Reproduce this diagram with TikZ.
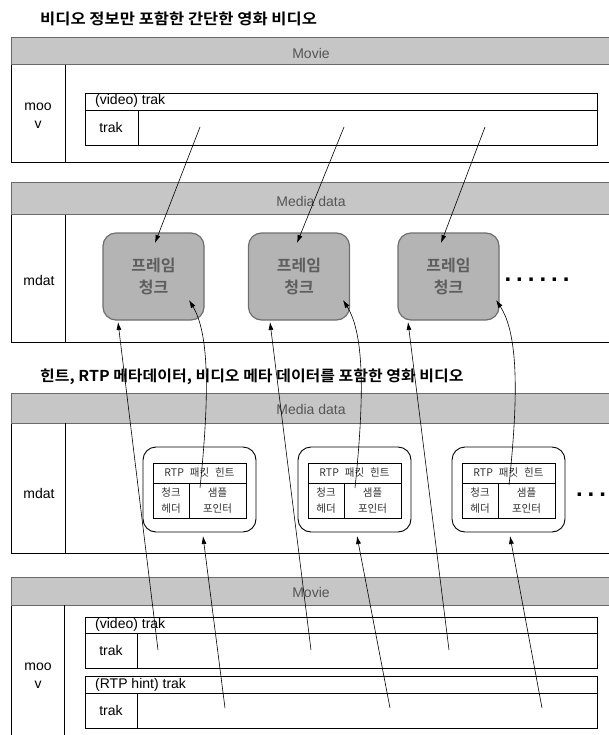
\documentclass[tikz,border=0pt]{standalone}
\usepackage{fontspec}
\setmainfont{Liberation Sans}
\newfontfamily\kr{Noto Sans CJK KR}
\newfontfamily\krb{Noto Sans CJK KR Bold}
\usetikzlibrary{arrows.meta}
\definecolor{bandfill}{HTML}{C6C6C6}
\definecolor{bandline}{HTML}{6A6A6A}
\definecolor{chunkfill}{HTML}{B4B4B4}
\definecolor{chunkline}{HTML}{6E6E6E}
\definecolor{graytext}{HTML}{555555}
\definecolor{chunktext}{HTML}{5E5E5E}
\begin{document}
\begin{tikzpicture}[x=1pt,y=-1pt,
  outer/.style={draw=black,line width=0.9pt},
  bandst/.style={fill=bandfill,draw=bandline,line width=1pt},
  boxline/.style={draw=black,line width=0.8pt},
  lat/.style={font=\fontsize{14}{16}\selectfont,inner sep=0pt},
  bandlabel/.style={font=\fontsize{14}{16}\selectfont,text=graytext,inner sep=0pt},
  ktitle/.style={font=\krb\fontsize{15}{17}\selectfont,inner sep=0pt,anchor=west},
  chunk/.style={fill=chunkfill,draw=chunkline,line width=1.2pt,rounded corners=13pt,
    minimum width=101pt,minimum height=87pt,align=center,text=chunktext,
    font=\krb\fontsize{16}{22}\selectfont},
  hintbox/.style={draw=black,line width=0.9pt,rounded corners=13pt,fill=white,
    minimum width=113pt,minimum height=85pt},
  cell/.style={font=\kr\fontsize{10.5}{16}\selectfont,inner sep=0pt,align=center,text=black!80},
  dotsst/.style={font=\bfseries\fontsize{24}{24}\selectfont,inner sep=0pt},
  arr/.style={-{Latex[length=8pt,width=5pt]},line width=0.6pt}]
\useasboundingbox (0,0) rectangle (609,735);
\clip (0,0) rectangle (609,735);

% ---------- titles
\node[ktitle] (t1) at (40,19) {\scalebox{1.1}[1]{비디오 정보만 포함한 간단한 영화 비디오}};
\node[ktitle] (t2) at (40,377) {\scalebox{1.065}[1]{힌트, RTP 메타데이터, 비디오 메타 데이터를 포함한 영화 비디오}};

% ---------- section 1 : Movie
\draw[outer] (11,38) rectangle (620,162);
\draw[bandst] (11,38) rectangle (620,65);
\node[bandlabel] (mv1) at (311,53) {Movie};
\draw[boxline] (65,65) -- (65,162);
\node[lat,align=center,font=\fontsize{14}{18}\selectfont] (moov1) at (38,116) {moo\\v};
\draw[boxline] (85,93) rectangle (597,145);
\draw[boxline] (85,110) -- (597,110);
\draw[boxline] (138,110) -- (138,145);
\node[lat,anchor=west] (vt1) at (95,101) {(video) trak};
\node[lat] (tk1) at (111,127) {trak};

% ---------- section 2 : Media data
\draw[outer] (11,183) rectangle (620,342);
\draw[bandst] (11,183) rectangle (620,215);
\node[bandlabel] (md1) at (311,201) {Media data};
\draw[boxline] (65,215) -- (65,342);
\node[lat] (mdat1) at (39,280) {mdat};
\node[chunk] (f1) at (153.5,276.5) {프레임\\청크};
\node[chunk] (f2) at (299,276.5) {프레임\\청크};
\node[chunk] (f3) at (448.5,276.5) {프레임\\청크};
\node[dotsst,anchor=base] (dots1) at (537,281) {.\hspace{5pt}.\hspace{5pt}.\hspace{5pt}.\hspace{5pt}.\hspace{5pt}.};

% ---------- section 3 : Media data (hint)
\draw[outer] (11,393) rectangle (620,553);
\draw[bandst] (11,393) rectangle (620,423);
\node[bandlabel] (md2) at (311,409) {Media data};
\draw[boxline] (65,423) -- (65,553);
\node[lat] (mdat2) at (39,493) {mdat};
\foreach \i/\x in {1/199.5,2/354.5,3/508.5}{
  \node[hintbox] (r\i) at (\x,489.5) {};
  \draw[line width=0.8pt] (\x-46.5,463) rectangle (\x+46.5,518);
  \draw[line width=0.8pt] (\x-46.5,483) -- (\x+46.5,483);
  \draw[line width=0.8pt] (\x-10.5,483) -- (\x-10.5,518);
  \node[cell] (rh\i) at (\x,473) {RTP\hspace{6pt}패킷\hspace{6pt}힌트};
  \node[cell] (rc\i) at (\x-28.5,500.5) {청크\\헤더};
  \node[cell] (rs\i) at (\x+18,500.5) {샘플\\포인터};
}
\node[dotsst,anchor=base] (dots2) at (591,496) {.\hspace{5pt}.\hspace{5pt}.};

% ---------- section 4 : Movie (hint)
\draw[outer] (11,577) rectangle (620,745);
\draw[bandst] (11,577) rectangle (620,605);
\node[bandlabel] (mv2) at (311,592) {Movie};
\draw[boxline] (64,605) -- (64,745);
\node[lat,align=center,font=\fontsize{14}{18}\selectfont] (moov2) at (38,676) {moo\\v};
\draw[boxline] (85,617) rectangle (597,668);
\draw[boxline] (85,633) -- (597,633);
\draw[boxline] (137,633) -- (137,668);
\node[lat,anchor=west] (vt2) at (95,625) {(video) trak};
\node[lat] (tk2) at (111,650) {trak};
\draw[boxline] (85,676) rectangle (597,728);
\draw[boxline] (85,693) -- (597,693);
\draw[boxline] (137,693) -- (137,728);
\node[lat,anchor=west] (ht2) at (95,685) {(RTP hint) trak};
\node[lat] (tk3) at (111,710) {trak};

% ---------- connector endpoints
\coordinate (a1) at (200,127); \coordinate (a1e) at (155,243);
\coordinate (a2) at (344,127); \coordinate (a2e) at (297,243);
\coordinate (a3) at (485,127); \coordinate (a3e) at (441,243);
\coordinate (v1) at (158,650); \coordinate (v1e) at (118,322);
\coordinate (v2) at (311,650); \coordinate (v2e) at (270,322);
\coordinate (v3) at (449,650); \coordinate (v3e) at (408,322);
\coordinate (h1) at (225,708); \coordinate (h1e) at (203,536);
\coordinate (h2) at (390,708); \coordinate (h2e) at (357,536);
\coordinate (h3) at (542,708); \coordinate (h3e) at (510,536);
\coordinate (c1) at (200,488); \coordinate (c1e) at (189,300);
\coordinate (c2) at (355,488); \coordinate (c2e) at (343,300);
\coordinate (c3) at (509,485); \coordinate (c3e) at (496,300);

\draw[arr] (a1) -- (a1e);
\draw[arr] (a2) -- (a2e);
\draw[arr] (a3) -- (a3e);
\draw[arr] (v1) -- (v1e);
\draw[arr] (v2) -- (v2e);
\draw[arr] (v3) -- (v3e);
\draw[arr] (h1) -- (h1e);
\draw[arr] (h2) -- (h2e);
\draw[arr] (h3) -- (h3e);
\draw[arr] (c1) .. controls (209,400) and (210,335) .. (c1e);
\draw[arr] (c2) .. controls (364,400) and (365,335) .. (c2e);
\draw[arr] (c3) .. controls (518,400) and (519,335) .. (c3e);
\end{tikzpicture}
\end{document}
